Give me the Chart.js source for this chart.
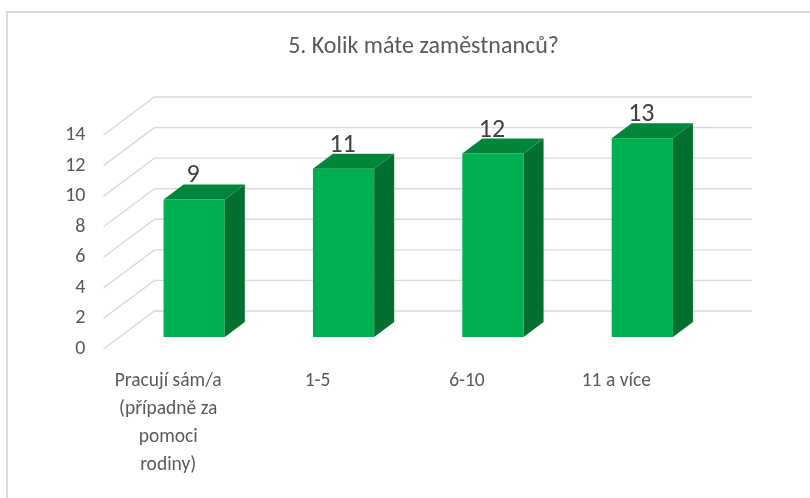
<!DOCTYPE html>
<html>
<head>
<meta charset="utf-8">
<script src="https://cdn.jsdelivr.net/npm/chart.js@4"></script>
<style>
  html, body { margin: 0; padding: 0; overflow: hidden; background: #fff; }
  #cadre { position: absolute; left: 6px; top: 11px; width: 900px; height: 600px; border: 2px solid #d9d9d9; }
  #myChart { position: absolute; left: 0; top: 0; }
</style>
</head>
<body>
<div id="cadre"></div>
<canvas id="myChart" width="810" height="498"></canvas>
<script>
// Données du graphique
const categories = [['Pracují sám/a', '(případně za', 'pomoci', 'rodiny)'], '1-5', '6-10', '11 a více'];
const counts = [9, 11, 12, 13];
const yMin = 0;
const yMax = 14;
const yStep = 2;

const police = 'Carlito, Lato, sans-serif';
const vert = '#00b050';
const vertDessus = '#00853d';
const vertCote = '#006f2f';

// décalage du fond (mur) et des barres par rapport au plan avant
const MUR_DX = 51, MUR_DY = -38;
const BARRE_DX = 16, BARRE_DY = -12;
const PROF_DX = 20, PROF_DY = -15;

// Plugin maison pour l'effet 3D
const effet3D = {
  id: 'effet3D',
  beforeDatasetsDraw(chart) {
    const ctx = chart.ctx;
    const area = chart.chartArea;
    const y = chart.scales.y;
    // lignes du mur + diagonales du sol
    ctx.save();
    ctx.strokeStyle = '#d9d9d9';
    ctx.lineWidth = 1.4;
    y.ticks.forEach(t => {
      const py = y.getPixelForValue(t.value);
      ctx.beginPath();
      ctx.moveTo(area.left, py);
      ctx.lineTo(area.left + MUR_DX, py + MUR_DY);
      ctx.lineTo(area.right + MUR_DX, py + MUR_DY);
      ctx.stroke();
    });
    ctx.restore();
    // les barres sont dessinées un peu en retrait
    ctx.save();
    ctx.translate(BARRE_DX, BARRE_DY);
  },
  afterDatasetsDraw(chart) {
    const ctx = chart.ctx;
    const meta = chart.getDatasetMeta(0);
    meta.data.forEach((bar, i) => {
      const p = bar.getProps(['x', 'y', 'base', 'width'], true);
      const left = p.x - p.width / 2;
      const right = p.x + p.width / 2;
      // côté
      ctx.fillStyle = vertCote;
      ctx.beginPath();
      ctx.moveTo(right, p.y);
      ctx.lineTo(right + PROF_DX, p.y + PROF_DY);
      ctx.lineTo(right + PROF_DX, p.base + PROF_DY);
      ctx.lineTo(right, p.base);
      ctx.closePath();
      ctx.fill();
      // dessus
      ctx.fillStyle = vertDessus;
      ctx.beginPath();
      ctx.moveTo(left, p.y);
      ctx.lineTo(left + PROF_DX, p.y + PROF_DY);
      ctx.lineTo(right + PROF_DX, p.y + PROF_DY);
      ctx.lineTo(right, p.y);
      ctx.closePath();
      ctx.fill();
      // valeur au-dessus de la barre
      ctx.fillStyle = '#404040';
      ctx.font = '26px ' + police;
      ctx.textAlign = 'center';
      ctx.textBaseline = 'alphabetic';
      ctx.fillText(String(counts[i]), p.x - 1, p.y - 17);
    });
    ctx.restore();
  }
};

const ctx = document.getElementById('myChart');

new Chart(ctx, {
  type: 'bar',
  data: {
    labels: categories,
    datasets: [{
      data: counts,
      backgroundColor: vert,
      borderWidth: 0,
      barPercentage: 0.41,
      categoryPercentage: 1.0,
      clip: false
    }]
  },
  plugins: [effet3D],
  options: {
    responsive: false,
    animation: false,
    layout: {
      padding: { left: 40, right: 3, top: 0, bottom: 1 }
    },
    scales: {
      x: {
        grid: { display: false, drawTicks: false },
        border: { display: false },
        ticks: {
          color: '#595959',
          padding: 18,
          labelOffset: -10,
          maxRotation: 0,
          font: { family: police, size: 19.5, lineHeight: 1.436 }
        }
      },
      y: {
        min: yMin,
        max: yMax,
        grid: { display: false, drawTicks: false },
        border: { display: false },
        ticks: {
          stepSize: yStep,
          color: '#595959',
          padding: 18,
          font: { family: police, size: 20 }
        },
        afterFit: s => { s.width = 63.5; }
      },
      // axe vide à droite pour garder la place (titre centré comme l'original)
      vide: {
        type: 'linear',
        position: 'right',
        grid: { display: false, drawTicks: false },
        border: { display: false },
        ticks: { display: false },
        afterFit: s => { s.width = 106; }
      }
    },
    plugins: {
      legend: { display: false },
      tooltip: { enabled: false },
      title: {
        display: true,
        text: '5. Kolik máte zaměstnanců?',
        color: '#595959',
        font: { family: police, size: 24, weight: 'normal', lineHeight: 1.2 },
        padding: { top: 32.6, bottom: 73.6 }
      }
    }
  }
});
</script>
</body>
</html>
